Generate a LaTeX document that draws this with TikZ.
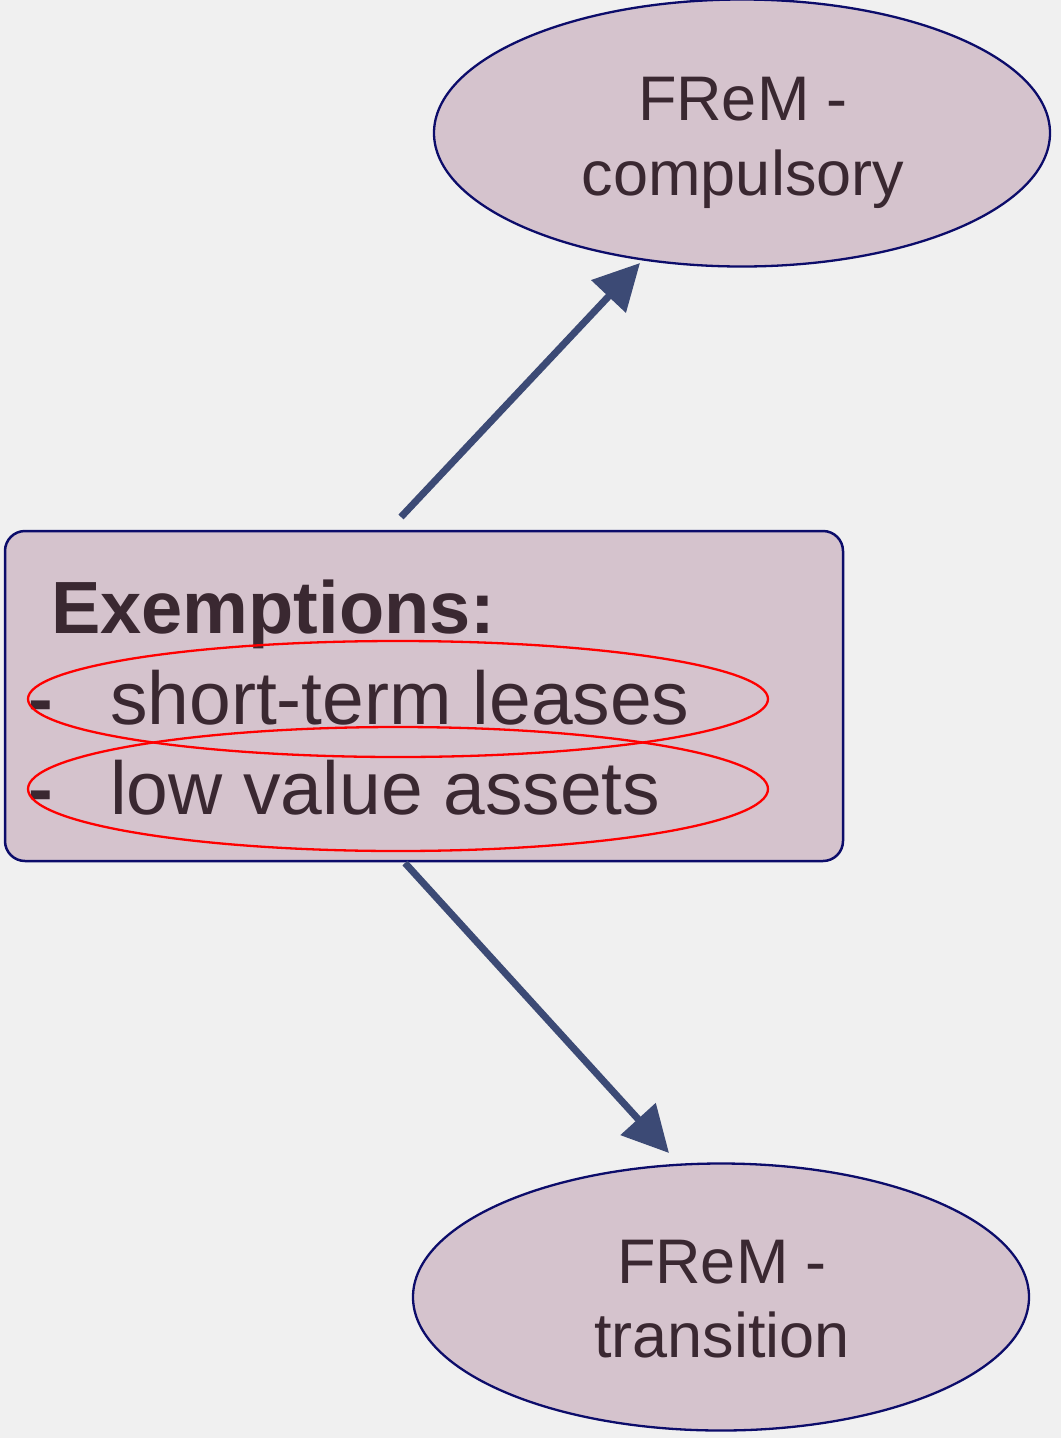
\documentclass[tikz,border=0pt]{standalone}
\usepackage{fontspec}
\setmainfont{Liberation Sans}
\usetikzlibrary{shapes.geometric,arrows.meta}
\definecolor{bgc}{HTML}{F0F0F0}
\definecolor{fillc}{HTML}{D5C3CD}
\definecolor{edgec}{HTML}{0C0C6A}
\definecolor{txtc}{HTML}{3A2831}
\definecolor{arrc}{HTML}{3C4A75}
\definecolor{ringc}{HTML}{FF0000}
\tikzset{
  oval/.style={ellipse, draw=edgec, fill=fillc, line width=2.3pt, inner sep=0pt,
    minimum width=616pt, minimum height=267pt},
  panel/.style={draw=edgec, fill=fillc, line width=2.5pt, rounded corners=20pt,
    inner sep=0pt, minimum width=838pt, minimum height=330pt},
  ring/.style={ellipse, draw=ringc, line width=2.3pt, inner sep=0pt, minimum width=740pt},
  ovaltext/.style={text=txtc, inner sep=0pt, anchor=base, font=\fontsize{63pt}{75pt}\selectfont},
  itemtext/.style={text=txtc, inner sep=0pt, anchor=base west, font=\fontsize{75pt}{90pt}\selectfont},
  headtext/.style={itemtext, font=\fontsize{74pt}{90pt}\selectfont\bfseries},
  flow/.style={draw=arrc, line width=7pt, -{Triangle[length=46pt, width=46pt]}}
}
\begin{document}
\begin{tikzpicture}[x=1pt, y=-1pt]
  % canvas
  \fill[bgc] (0,0) rectangle (1061,1438);
  \useasboundingbox (0,0) rectangle (1061,1438);

  % targets
  \node[oval] (top) at (742,133) {};
  \node[ovaltext] (top1) at (743,120) {FReM -};
  \node[ovaltext] (top2) at (743,195) {compulsory};

  \node[oval] (bot) at (721,1297) {};
  \node[ovaltext] (bot1) at (722,1283) {FReM -};
  \node[ovaltext] (bot2) at (722,1357) {transition};

  % exemptions panel
  \node[panel] (ex) at (424,696) {};
  \node[headtext] (exhead) at (51,633) {Exemptions:};
  \node[headtext] (d1) at (28,724) {-};
  \node[itemtext] (i1) at (110,724) {short-term leases};
  \node[headtext] (d2) at (28,814) {-};
  \node[itemtext] (i2) at (110,814) {low value assets};

  % red highlight rings
  \node[ring, minimum height=116pt] (r1) at (398,699) {};
  \node[ring, minimum height=124pt] (r2) at (398,789) {};

  % connectors
  \coordinate (s1) at (401,517);
  \coordinate (t1) at (640,263);
  \coordinate (s2) at (405,863);
  \coordinate (t2) at (669,1153);
  \draw[flow] (s1) -- (t1);
  \draw[flow] (s2) -- (t2);
\end{tikzpicture}
\end{document}
